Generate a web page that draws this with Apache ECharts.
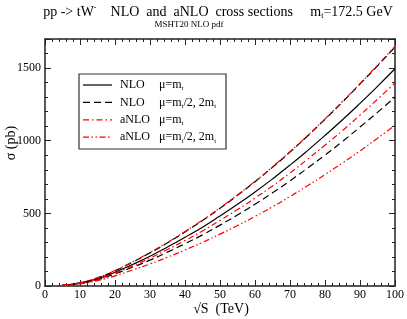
<!DOCTYPE html>
<html><head><meta charset="utf-8">
<script src="https://cdn.jsdelivr.net/npm/echarts@6/dist/echarts.min.js"></script>
<style>html,body{margin:0;padding:0;background:#fff}#c{width:407px;height:319px}</style>
</head><body><div id="c"></div>
<script>
const sqrtS = [5,10,15,20,25,30,35,40,45,50,55,60,65,70,75,80,85,90,95,100];
const nloCentral = [5,20,50,95,148,205,268,335,405,482,562,647,737,832,932,1036,1144,1257,1374,1495];
const nloUp   = [6,22,56,105,164,228,297,372,450,535,624,718,817,922,1032,1147,1266,1390,1515,1645];
const nloLow  = [4,17,44,83,129,178,233,291,352,419,489,563,641,724,811,901,995,1094,1195,1300];
const anloCentral = [5,19,47,89,138,192,251,313,379,451,526,605,689,778,872,969,1070,1176,1285,1398];
const anloUp  = [6,23,57,107,166,230,300,375,453,538,627,720,820,925,1035,1150,1270,1393,1520,1650];
const anloLow = [4,15,37,70,110,152,198,248,300,357,416,479,545,616,690,767,847,930,1017,1106];
const xTicks = [0,10,20,30,40,50,60,70,80,90,100];
const yTicks = [0,500,1000,1500];
const legendNames = ['n1','n2','a1','a2'];

const pairs = arr => sqrtS.map((x,i)=>[x,arr[i]]);
const FONT = '"Liberation Serif","Times New Roman",serif';
const chart = echarts.init(document.getElementById('c'), null, {renderer:'canvas'});

const STY = {
  n1:{color:'#000', dash:'solid'},
  n2:{color:'#000', dash:[7,4]},
  a1:{color:'#ff0000', dash:[6,3,1.5,3]},
  a2:{color:'#ff0000', dash:[6,2.5,1.5,2.5,1.5,2.5]}
};
function mk(name, data){
  const s = STY[name];
  return {name, type:'line', data:pairs(data), showSymbol:false, symbol:'none', smooth:true,
    animation:false, lineStyle:{color:s.color, width:1.2, type:s.dash}, itemStyle:{color:s.color}};
}
const series = [
  mk('n1', nloCentral), mk('n2', nloUp), mk('n2', nloLow),
  mk('a1', anloCentral), mk('a2', anloUp), mk('a2', anloLow)
];

const legendText = {
  n1:'{p|NLO}{q|μ=m}{s|t}',
  n2:'{p|NLO}{q|μ=m}{s|t}{q|/2, 2m}{s|t}',
  a1:'{p|aNLO}{q|μ=m}{s|t}',
  a2:'{p|aNLO}{q|μ=m}{s|t}{q|/2, 2m}{s|t}'
};
const rich = {p:{fontFamily:FONT, fontSize:12, width:39, fill:'#000'},
              q:{fontFamily:FONT, fontSize:12, fill:'#000'},
              s:{fontFamily:FONT, fontSize:7, padding:[7,0,0,0], fill:'#000'}};

const legendGraphic = [{type:'rect', shape:{x:79, y:74, width:147, height:75},
  style:{fill:'#fff', stroke:'#333', lineWidth:1.2}, z:100}];
legendNames.forEach((n,i)=>{
  const y = 85 + i*17.4;
  legendGraphic.push({type:'line', shape:{x1:83, y1:y, x2:112, y2:y}, z:101,
    style:{stroke:STY[n].color, lineWidth:1.2, lineDash:STY[n].dash==='solid'?null:STY[n].dash}});
  legendGraphic.push({type:'text', x:120, y:y, z:101,
    style:{text:legendText[n], rich, fontFamily:FONT, fontSize:12, fill:'#000', textVerticalAlign:'middle'}});
});

const titleRich = {
  m:{fontFamily:FONT, fontSize:14, fill:'#000'},
  sup:{fontFamily:FONT, fontSize:8, padding:[0,0,8,0], fill:'#000'},
  sub:{fontFamily:FONT, fontSize:8, padding:[8,0,0,0], fill:'#000'}
};

const axisCommon = {
  min:0, axisLine:{show:true, onZero:false, lineStyle:{color:'#222', width:1.5}},
  axisTick:{show:true, inside:true, length:6, lineStyle:{color:'#222', width:1}},
  minorTick:{show:true, splitNumber:5, length:3, lineStyle:{color:'#222', width:1}},
  splitLine:{show:false}
};

chart.setOption({
  animation:false,
  backgroundColor:'#fff',
  grid:{left:45, right:11, top:39, bottom:33, containLabel:false},
  xAxis:[
    Object.assign({}, axisCommon, {type:'value', position:'bottom', max:100, interval:10,
      axisLabel:{show:true, margin:3, fontFamily:FONT, fontSize:12, color:'#000',
        formatter:v=> xTicks.includes(v)? String(v):''}}),
    Object.assign({}, axisCommon, {type:'value', position:'top', max:100, interval:10,
      axisLabel:{show:false}})
  ],
  yAxis:[
    Object.assign({}, axisCommon, {type:'value', position:'left', max:1700, interval:500,
      axisLabel:{show:true, margin:4, showMaxLabel:false, fontFamily:FONT, fontSize:12, color:'#000',
        formatter:v=> yTicks.includes(v)? String(v):''}}),
    Object.assign({}, axisCommon, {type:'value', position:'right', max:1700, interval:500,
      axisLabel:{show:false}})
  ],
  graphic: legendGraphic.concat([
    {type:'text', x:218, y:12, style:{
      text:'{m|pp -> tW}{sup|-}{m|    NLO  and  aNLO  cross sections     m}{sub|t}{m|=172.5 GeV}',
      rich:titleRich, fontFamily:FONT, fontSize:14, fill:'#000', textAlign:'center', textVerticalAlign:'middle'}},
    {type:'text', x:189, y:25, style:{text:'MSHT20 NLO pdf', fontFamily:FONT, fontSize:9, fill:'#000', textAlign:'center', textVerticalAlign:'middle'}},
    {type:'text', x:221, y:309, style:{text:'√S  (TeV)', fontFamily:FONT, fontSize:14, fill:'#000', textAlign:'center', textVerticalAlign:'middle'}},
    {type:'text', rotation:Math.PI/2, x:11, y:143, style:{text:'σ (pb)', fontFamily:FONT, fontSize:14, fill:'#000', textAlign:'center', textVerticalAlign:'middle'}}
  ]),
  series
});
</script></body></html>
